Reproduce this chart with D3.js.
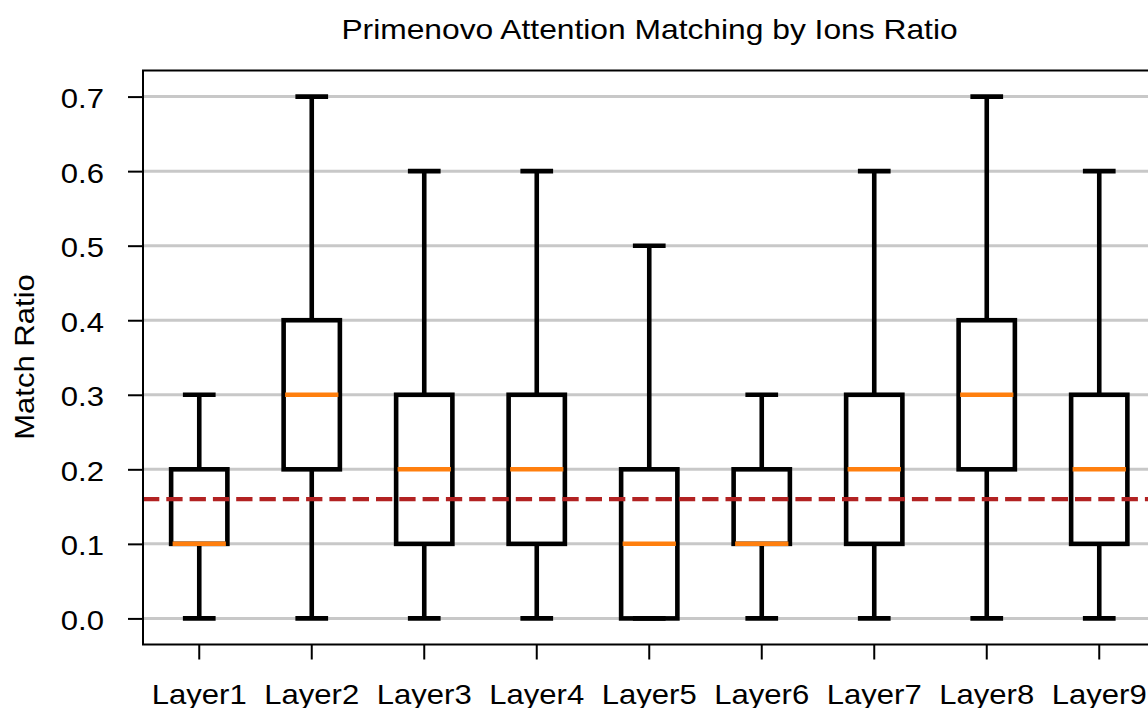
<!DOCTYPE html>
<html>
<head>
<meta charset="utf-8">
<script src="https://cdn.jsdelivr.net/npm/d3@7"></script>
<style>
  html, body { margin: 0; padding: 0; background: #ffffff; }
  svg { display: block; }
  text { font-family: "Liberation Sans", Arial, Helvetica, sans-serif; fill: #000; }
</style>
</head>
<body>
<svg id="chart" width="1148" height="708"></svg>
<script>
// Per-layer box statistics
const layers = ["Layer1", "Layer2", "Layer3", "Layer4", "Layer5", "Layer6", "Layer7", "Layer8", "Layer9"];
const whiskerLow  = [0.0, 0.0, 0.0, 0.0, 0.0, 0.0, 0.0, 0.0, 0.0];
const q1          = [0.1, 0.2, 0.1, 0.1, 0.0, 0.1, 0.1, 0.2, 0.1];
const medians     = [0.1, 0.3, 0.2, 0.2, 0.1, 0.1, 0.2, 0.3, 0.2];
const q3          = [0.2, 0.4, 0.3, 0.3, 0.2, 0.2, 0.3, 0.4, 0.3];
const whiskerHigh = [0.3, 0.7, 0.6, 0.6, 0.5, 0.3, 0.6, 0.7, 0.6];
const threshold = 0.16;
const yTicks = [0.0, 0.1, 0.2, 0.3, 0.4, 0.5, 0.6, 0.7];

const titleText = "Primenovo Attention Matching by Ions Ratio";
const yLabelText = "Match Ratio";

(function draw() {
  const svg = d3.select("#chart");
  const plotLeft = 143, plotRight = 1155.5, plotTop = 70.5, plotBottom = 644.5;
  const fontSize = 28.5, stretch = 1.09;

  const x = d3.scaleBand().domain(layers).range([plotLeft, plotRight]).padding(0);
  const y = d3.scaleLinear().domain([-0.035, 0.735]).range([plotBottom, plotTop]);
  const bw = x.bandwidth();
  const cx = name => x(name) + bw / 2;

  const rows = layers.map((name, i) => ({
    name, lo: whiskerLow[i], q1: q1[i], med: medians[i], q3: q3[i], hi: whiskerHigh[i]
  }));

  // grid
  svg.append("g").selectAll("line").data(yTicks).join("line")
    .attr("x1", plotLeft).attr("x2", plotRight)
    .attr("y1", d => y(d)).attr("y2", d => y(d))
    .attr("stroke", "#c8c8c8").attr("stroke-width", 3);

  // boxes
  const lw = 4.6;
  const g = svg.append("g").selectAll("g").data(rows).join("g");
  g.append("line")
    .attr("x1", d => cx(d.name)).attr("x2", d => cx(d.name))
    .attr("y1", d => y(d.q1)).attr("y2", d => y(d.lo))
    .attr("stroke", "#000").attr("stroke-width", lw);
  g.append("line")
    .attr("x1", d => cx(d.name)).attr("x2", d => cx(d.name))
    .attr("y1", d => y(d.q3)).attr("y2", d => y(d.hi))
    .attr("stroke", "#000").attr("stroke-width", lw);
  g.selectAll("line.cap").data(d => [d.lo, d.hi].map(v => ({ name: d.name, v }))).join("line")
    .attr("class", "cap")
    .attr("x1", d => cx(d.name) - bw * 0.125).attr("x2", d => cx(d.name) + bw * 0.125)
    .attr("y1", d => y(d.v)).attr("y2", d => y(d.v))
    .attr("stroke", "#000").attr("stroke-width", lw).attr("stroke-linecap", "square");
  g.append("rect")
    .attr("x", d => cx(d.name) - bw * 0.25).attr("width", bw * 0.5)
    .attr("y", d => y(d.q3)).attr("height", d => y(d.q1) - y(d.q3))
    .attr("fill", "none").attr("stroke", "#000").attr("stroke-width", lw)
    .attr("stroke-linejoin", "miter");
  g.append("line")
    .attr("x1", d => cx(d.name) - bw * 0.25 + 1.5).attr("x2", d => cx(d.name) + bw * 0.25 - 1.5)
    .attr("y1", d => y(d.med)).attr("y2", d => y(d.med))
    .attr("stroke", "#ff7f0e").attr("stroke-width", 4.5);

  // threshold line
  svg.append("line")
    .attr("x1", plotLeft).attr("x2", plotRight)
    .attr("y1", y(threshold)).attr("y2", y(threshold))
    .attr("stroke", "#b22222").attr("stroke-width", 4.2)
    .attr("stroke-dasharray", "16.3 7");

  // axes
  const xAxis = svg.append("g").attr("transform", `translate(0,${plotBottom})`)
    .call(d3.axisBottom(x).tickSize(15).tickSizeOuter(0));
  const yAxis = svg.append("g").attr("transform", `translate(${plotLeft},0)`)
    .call(d3.axisLeft(y).tickValues(yTicks).tickFormat(d3.format(".1f")).tickSize(15).tickSizeOuter(0));
  [xAxis, yAxis].forEach(a => {
    a.select(".domain").remove();
    a.selectAll(".tick line").attr("stroke", "#000").attr("stroke-width", 2);
    a.selectAll(".tick text").attr("font-size", fontSize).attr("fill", "#000")
      .attr("font-family", "Liberation Sans, Arial, sans-serif");
  });
  xAxis.selectAll(".tick text")
    .attr("y", null).attr("dy", null)
    .attr("text-anchor", "middle")
    .attr("transform", `translate(0,59) scale(${stretch},1)`);
  yAxis.selectAll(".tick text")
    .attr("x", null).attr("dy", null)
    .attr("text-anchor", "end")
    .attr("transform", `translate(${104 - plotLeft},11) scale(${stretch},1)`);

  // spines
  svg.append("path")
    .attr("d", `M${plotRight},${plotTop}H${plotLeft}V${plotBottom}H${plotRight}V${plotTop}`)
    .attr("fill", "none").attr("stroke", "#000").attr("stroke-width", 2);

  // title and y label
  svg.append("text")
    .attr("transform", `translate(649.5,38.5) scale(1.115,1)`)
    .attr("text-anchor", "middle").attr("font-size", fontSize)
    .text(titleText);
  svg.append("text")
    .attr("transform", `translate(33.5,357) rotate(-90) scale(${stretch},1)`)
    .attr("text-anchor", "middle").attr("font-size", fontSize)
    .text(yLabelText);
})();
</script>
</body>
</html>
